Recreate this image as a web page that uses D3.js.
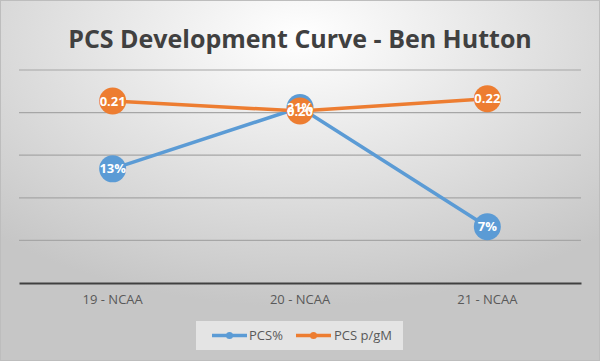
<!DOCTYPE html>
<html><head><meta charset="utf-8">
<script src="https://cdn.jsdelivr.net/npm/d3@7"></script>
<style>html,body{margin:0;padding:0;background:#fff;}svg{display:block;}</style>
</head><body>
<script>
const title = "PCS Development Curve - Ben Hutton";
const categories = ["19 - NCAA", "20 - NCAA", "21 - NCAA"];
const pcsPct = [0.134, 0.206, 0.066];
const pcsPerGM = [0.213, 0.203, 0.2152];
const yTicks = [0, 0.05, 0.10, 0.15, 0.20, 0.25];
const seriesNames = ["PCS%", "PCS p/gM"];
const colors = ["#5B9BD5", "#ED7D31"];

const W = 600, H = 361;
const font = "'Open Sans', sans-serif";
const svg = d3.select("body").append("svg").attr("width", W).attr("height", H);
const defs = svg.append("defs");
const grad = defs.append("radialGradient").attr("id","bg")
  .attr("cx","50%").attr("cy","10%").attr("r","75%").attr("fx","50%").attr("fy","10%");
grad.append("stop").attr("offset","0%").attr("stop-color","#ffffff");
grad.append("stop").attr("offset","100%").attr("stop-color","#c6c6c6");
svg.append("rect").attr("x",0.5).attr("y",0.5).attr("width",W-1).attr("height",H-1)
  .attr("fill","url(#bg)").attr("stroke","#bdbdbd");

svg.append("text").attr("x", 300).attr("y", 48).attr("text-anchor","middle")
  .attr("font-family", font).attr("font-weight", 700).attr("font-size", 25)
  .attr("fill", "#404040").text(title);

const x = d3.scaleBand().domain(categories).range([19, 581]);
const y = d3.scaleLinear().domain([0, 0.25]).range([283, 70]);
const y2 = d3.scaleLinear().domain([0.031, 0.244]).range([283, 70]);

// gridlines
svg.append("g").selectAll("line").data(yTicks.slice(1)).join("line")
  .attr("x1", 19).attr("x2", 581).attr("y1", d => y(d)).attr("y2", d => y(d))
  .attr("stroke", "#a6a6a6").attr("stroke-width", 1.2);

// x axis
const xAxis = svg.append("g").attr("transform", "translate(0,283)")
  .call(d3.axisBottom(x).tickSize(0).tickPadding(12));
xAxis.select(".domain").attr("stroke", "#404040").attr("stroke-width", 2);
xAxis.selectAll("text").attr("font-family", font).attr("font-size", 13).attr("fill", "#595959");

const cx = (d, i) => x(categories[i]) + x.bandwidth()/2;
const series = [
  {vals: pcsPct, ys: y, color: colors[0], fmt: d => Math.round(d*100) + "%"},
  {vals: pcsPerGM, ys: y2, color: colors[1], fmt: d => d.toFixed(2)}
];
series.forEach(s => {
  const line = d3.line().x((d,i) => cx(d,i)).y(d => s.ys(d));
  svg.append("path").datum(s.vals).attr("d", line).attr("fill","none")
    .attr("stroke", s.color).attr("stroke-width", 3.5).attr("stroke-linejoin","round");
  svg.append("g").selectAll("circle").data(s.vals).join("circle")
    .attr("cx", cx).attr("cy", d => s.ys(d)).attr("r", 13.5).attr("fill", s.color);
});
series.forEach(s => {
  svg.append("g").selectAll("text").data(s.vals).join("text")
    .attr("x", cx).attr("y", d => s.ys(d)).attr("dy", "0.35em").attr("text-anchor","middle")
    .attr("font-family", font).attr("font-weight", 700).attr("font-size", 13)
    .attr("fill", "#fff").text(s.fmt);
});

// legend
const lg = svg.append("g");
lg.append("rect").attr("x", 196).attr("y", 321).attr("width", 207).attr("height", 29).attr("fill", "#e4e4e4");
const items = [{x0: 212, tx: 249}, {x0: 296, tx: 334}];
items.forEach((it, i) => {
  lg.append("line").attr("x1", it.x0).attr("x2", it.x0 + 35).attr("y1", 335.5).attr("y2", 335.5)
    .attr("stroke", colors[i]).attr("stroke-width", 3.5);
  lg.append("circle").attr("cx", it.x0 + 17.5).attr("cy", 335.5).attr("r", 3.5).attr("fill", colors[i]);
  lg.append("text").attr("x", it.tx).attr("y", 335.5).attr("dy","0.35em")
    .attr("font-family", font).attr("font-size", 13).attr("fill", "#595959").text(seriesNames[i]);
});
</script>
</body></html>
